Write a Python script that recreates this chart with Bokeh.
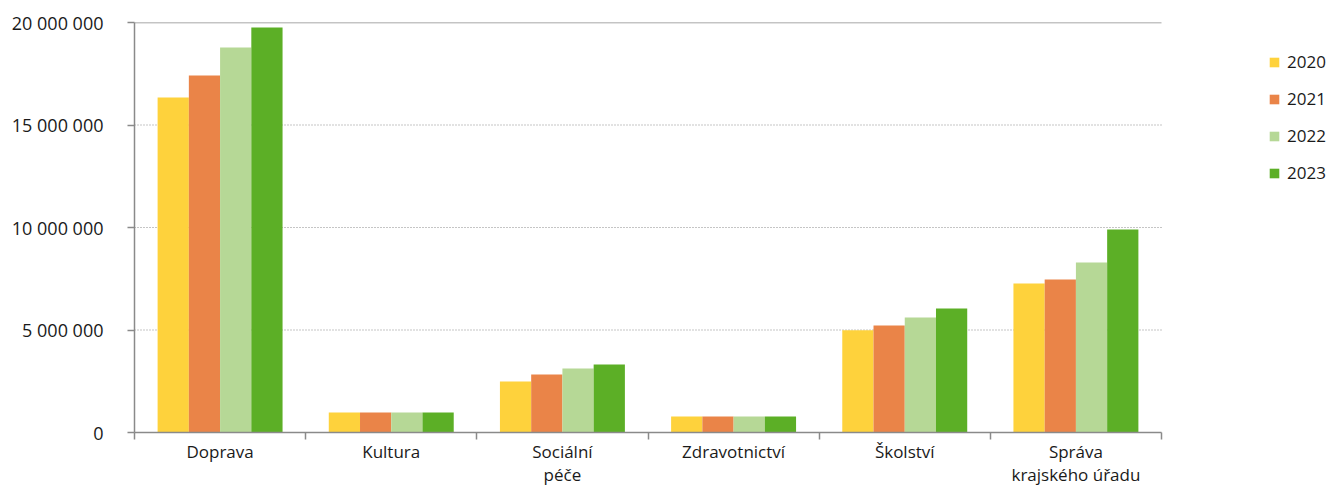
from bokeh.plotting import figure
from bokeh.models import (Range1d, FixedTicker, Legend, LegendItem,
                          ColumnDataSource)
from bokeh.embed import file_html
from bokeh.resources import INLINE

categories = ["Doprava", "Kultura", "Sociální\npéče", "Zdravotnictví",
              "Školství", "Správa\nkrajského úřadu"]
years = ["2020", "2021", "2022", "2023"]
v2020 = [16340000, 980000, 2490000, 780000, 4990000, 7270000]
v2021 = [17410000, 980000, 2830000, 780000, 5220000, 7460000]
v2022 = [18780000, 980000, 3120000, 780000, 5610000, 8290000]
v2023 = [19760000, 980000, 3320000, 780000, 6050000, 9900000]
series = [v2020, v2021, v2022, v2023]
colors = ["#FED23C", "#EA8448", "#B6D896", "#5CAF26"]
y_ticks = [0, 5000000, 10000000, 15000000, 20000000]
y_tick_labels = ["0", "5 000 000", "10 000 000", "15 000 000", "20 000 000"]

FONT = "Open Sans"
AXIS_COLOR = "#8a8a8a"
TEXT_COLOR = "#1a1a1a"

W, H = 1330, 490
LEFT, TOP, BOTTOM_Y, AXIS_RIGHT = 134, 22, 432, 1161
n = len(categories)
x_end = n * (W - LEFT) / (AXIS_RIGHT - LEFT)

p = figure(width=W, height=H, output_backend="svg", toolbar_location=None,
           x_range=Range1d(0, x_end), y_range=Range1d(0, y_ticks[-1]),
           min_border_left=LEFT, min_border_right=0, min_border_top=TOP,
           min_border_bottom=H - BOTTOM_Y)
p.outline_line_color = None
p.background_fill_color = "white"
p.xgrid.visible = False
p.ygrid.visible = False

# grid lines (dotted) and top solid line, spanning the category extent
grid_src = ColumnDataSource(dict(x0=[0] * 3, x1=[n] * 3, y=y_ticks[1:4]))
p.segment(x0="x0", x1="x1", y0="y", y1="y", source=grid_src,
          line_color=AXIS_COLOR, line_dash="1 2", line_width=1)
p.segment(x0=[0], x1=[n], y0=[y_ticks[-1]], y1=[y_ticks[-1]],
          line_color=AXIS_COLOR, line_width=1.5)

bar_w = 0.1825
offsets = [-1.5 * bar_w, -0.5 * bar_w, 0.5 * bar_w, 1.5 * bar_w]
renderers = []
for yr, vals, col, off in zip(years, series, colors, offsets):
    src = ColumnDataSource(dict(x=[i + 0.5 + off for i in range(n)], top=vals))
    r = p.vbar(x="x", top="top", width=bar_w, bottom=0, source=src,
               fill_color=col, line_color=None)
    renderers.append(r)

# y axis
yax = p.yaxis[0]
yax.ticker = FixedTicker(ticks=y_ticks)
yax.major_label_overrides = {t: l for t, l in zip(y_ticks, y_tick_labels)}
yax.major_label_text_font = FONT
yax.major_label_text_font_size = "18px"
yax.major_label_text_color = TEXT_COLOR
yax.major_label_standoff = 24
yax.axis_line_color = AXIS_COLOR
yax.axis_line_width = 1.5
yax.major_tick_line_color = AXIS_COLOR
yax.major_tick_line_width = 1.5
yax.major_tick_out = 7
yax.major_tick_in = 0
yax.minor_tick_line_color = None

# x axis: labels at category centres, tick marks at category boundaries
xax = p.xaxis[0]
centers = [i + 0.5 for i in range(n)]
xax.bounds = (0, n)
xax.ticker = FixedTicker(ticks=centers, minor_ticks=list(range(n + 1)))
xax.major_label_overrides = {c: name for c, name in zip(centers, categories)}
xax.major_label_text_font = FONT
xax.major_label_text_font_size = "17px"
xax.major_label_text_color = TEXT_COLOR
xax.major_label_text_line_height = 1.0
xax.major_label_standoff = 0
xax.major_tick_line_color = None
xax.major_tick_out = 7
xax.major_tick_in = 0
xax.minor_tick_line_color = AXIS_COLOR
xax.minor_tick_line_width = 1.5
xax.minor_tick_out = 7
xax.minor_tick_in = 0
xax.axis_line_color = AXIS_COLOR
xax.axis_line_width = 1.5

legend = Legend(items=[LegendItem(label=y, renderers=[r]) for y, r in zip(years, renderers)],
                location=(1134, 248), glyph_width=12, glyph_height=12,
                label_height=12, spacing=14, label_standoff=7, padding=0,
                margin=0, border_line_color=None, background_fill_alpha=0,
                label_text_font=FONT, label_text_font_size="17px",
                label_text_color=TEXT_COLOR)
p.add_layout(legend, "center")

open("out.html", "w").write(file_html(p, INLINE))
